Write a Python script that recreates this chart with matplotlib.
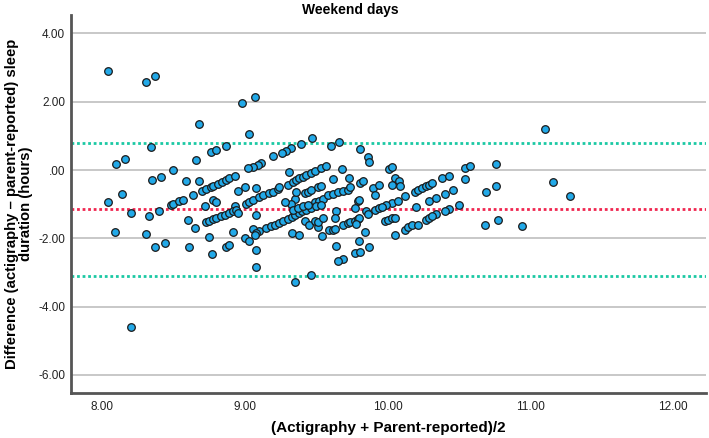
import numpy as np
import matplotlib
matplotlib.use("Agg")
import matplotlib.pyplot as plt

# mean of the two methods (hours) and difference actigraphy - parent (hours)
mean_left = [8.04, 8.31, 8.37, 8.10, 8.16, 8.04, 8.14, 8.20, 8.09, 8.20, 8.31, 8.33, 8.34, 8.68, 8.98, 9.07, 9.03]
diff_left = [2.91, 2.59, 2.74, 0.19, 0.31, -0.93, -0.70, -1.27, -1.82, -4.59, -1.88, -1.36, 0.67, 1.35, 1.96, 2.14, 1.06]

mean_b = [8.76, 8.80, 8.87, 8.66, 8.50, 8.35, 8.41, 8.59, 8.68, 8.64,
          8.70, 8.73, 8.76, 8.78, 8.81, 8.84, 8.87, 8.89, 8.93, 8.95,
          8.78, 8.80, 8.72, 8.48, 8.50, 8.54, 8.57, 8.93, 8.40,
          8.60, 8.65, 8.73, 8.75, 8.78, 8.80, 8.83, 8.86, 8.89, 8.92, 8.94,
          8.75, 8.77, 8.92, 8.87, 8.89, 8.37, 8.44, 8.61]
diff_b = [0.52, 0.58, 0.71, 0.30, 0.01, -0.29, -0.20, -0.31, -0.31, -0.72,
          -0.61, -0.55, -0.50, -0.46, -0.40, -0.35, -0.28, -0.23, -0.16, -0.61,
          -0.87, -0.94, -1.06, -1.03, -0.98, -0.92, -0.88, -1.06, -1.19,
          -1.45, -1.70, -1.52, -1.48, -1.44, -1.40, -1.36, -1.31, -1.26, -1.21, -1.16,
          -1.97, -2.46, -1.81, -2.26, -2.20, -2.25, -2.13, -2.26]

mean_c = [9.47, 9.39, 9.32, 9.29, 9.26, 9.20, 9.11, 9.09, 9.06, 9.02, 9.31,
          9.30, 9.34, 9.36, 9.38, 9.41, 9.43, 9.46, 9.49, 9.00, 9.08,
          9.01, 9.03, 9.06, 9.10, 9.13, 9.17, 9.20, 9.23, 9.24,
          9.35, 9.32, 9.28, 9.36, 9.42, 9.44, 9.46, 9.51, 9.53, 9.49, 9.52, 9.55,
          9.08, 8.95,
          9.10, 9.15, 9.18, 9.21, 9.24, 9.27, 9.30, 9.33, 9.35, 9.38, 9.40, 9.43, 9.46, 9.50, 9.53,
          9.06, 9.08, 9.07, 9.00, 9.03, 9.08, 9.08, 9.33, 9.38,
          9.42, 9.45, 9.49, 9.51, 9.51, 9.54, 9.55, 9.35, 9.46,
          9.34, 9.37, 9.41, 9.44]
diff_c = [0.94, 0.77, 0.64, 0.57, 0.50, 0.40, 0.22, 0.16, 0.10, 0.05, -0.05,
          -0.43, -0.35, -0.29, -0.23, -0.19, -0.14, -0.09, -0.04, -0.50, -0.52,
          -0.99, -0.94, -0.87, -0.80, -0.74, -0.67, -0.63, -0.56, -0.51,
          -0.84, -0.99, -0.94, -0.63, -0.67, -0.63, -0.58, -0.51, -0.46, -0.95, -0.90, -0.84,
          -1.33, -1.26,
          -1.79, -1.70, -1.64, -1.60, -1.55, -1.48, -1.43, -1.38, -1.33, -1.26, -1.21, -1.16, -1.11, -1.06, -1.01,
          -1.73, -1.84, -1.89, -1.99, -2.09, -2.33, -2.84, -1.84, -1.91,
          -1.50, -1.62, -1.50, -1.67, -1.52, -1.94, -1.40, -3.29, -3.08,
          -1.16, -1.11, -1.06, -1.01]

mean_d = [9.60, 9.66, 9.81, 9.86, 9.87, 9.68, 9.53, 9.57, 10.01, 10.03,
          9.62, 9.73, 9.81, 9.83, 9.90, 9.94, 9.91,
          10.05, 10.08, 10.09, 10.03, 10.12, 9.79, 9.80, 10.03, 9.99, 10.07,
          9.58, 9.62, 9.65, 9.69, 9.72, 9.74,
          9.64, 9.77, 9.85, 9.91, 9.94,
          9.59, 9.62, 9.63, 9.69, 9.72, 9.74, 9.77, 9.79, 9.80,
          9.86, 9.96, 9.63, 9.78,
          9.84, 9.64, 9.80, 9.87, 9.77, 9.81, 9.69, 9.65,
          9.98, 10.00, 10.03, 10.05, 10.05, 10.12]
diff_d = [0.69, 0.82, 0.62, 0.38, 0.25, 0.03, 0.06, 0.11, 0.03, 0.08,
          -0.25, -0.22, -0.38, -0.33, -0.53, -0.45, -0.72,
          -0.23, -0.33, -0.48, -0.45, -0.77, -0.92, -0.87, -0.96, -1.01, -0.92,
          -0.74, -0.69, -0.65, -0.62, -0.57, -0.51,
          -1.21, -1.11, -1.21, -1.16, -1.11,
          -1.77, -1.75, -1.72, -1.62, -1.55, -1.52, -1.48, -1.42, -1.40,
          -1.29, -1.09, -1.40, -1.58,
          -1.81, -2.23, -2.07, -2.26, -2.43, -2.40, -2.60, -2.67,
          -1.48, -1.45, -1.40, -1.39, -1.91, -1.75]

mean_right = [10.54, 10.58, 10.69, 10.54, 10.38, 10.43, 10.46, 10.40,
              10.19, 10.21, 10.24, 10.27, 10.29, 10.31, 10.29, 10.34,
              10.20, 10.50, 10.43, 10.40, 10.34,
              10.14, 10.17, 10.21, 10.27, 10.29, 10.31,
              10.68, 10.77, 10.94, 10.76, 10.76, 11.10, 11.16, 11.28]
diff_right = [0.06, 0.13, -0.63, -0.25, -0.23, -0.16, -0.58, -0.70,
              -0.63, -0.58, -0.53, -0.48, -0.43, -0.38, -0.92, -0.82,
              -1.08, -1.01, -1.13, -1.21, -1.29,
              -1.68, -1.62, -1.60, -1.45, -1.40, -1.36,
              -1.62, -1.47, -1.63, 0.18, -0.47, 1.21, -0.34, -0.77]

mean_diff = -1.15
upper_loa = 0.79
lower_loa = -3.11

x = np.array(mean_left + mean_b + mean_c + mean_d + mean_right)
y = np.array(diff_left + diff_b + diff_c + diff_d + diff_right)

plt.rcParams['font.family'] = ['Liberation Sans', 'DejaVu Sans']

fig = plt.figure(figsize=(7.09, 4.38), dpi=100)
ax = fig.add_axes([0.0997, 0.1027, 0.896, 0.863])

ax.set_xlim(7.78, 12.23)
ax.set_ylim(-6.53, 4.54)
ax.set_yticks([4, 2, 0, -2, -4, -6])
ax.set_yticklabels(['4.00', '2.00', '.00', '-2.00', '-4.00', '-6.00'])
ax.set_xticks([8, 9, 10, 11, 12])
ax.set_xticklabels(['8.00', '9.00', '10.00', '11.00', '12.00'])
ax.tick_params(length=0, labelsize=8.5, colors='#222222')
ax.tick_params(axis='x', pad=6)
ax.tick_params(axis='y', pad=4)

ax.grid(axis='y', color='#c8c8c8', lw=1.4)
ax.set_axisbelow(True)
for s in ['top', 'right']:
    ax.spines[s].set_visible(False)
for s in ['left', 'bottom']:
    ax.spines[s].set_color('#555555')
    ax.spines[s].set_linewidth(2)

ax.axhline(upper_loa, color='#1bc9a4', lw=2, ls=(0, (1, 1)), zorder=2)
ax.axhline(mean_diff, color='#f0264f', lw=2, ls=(0, (1, 1)), zorder=2)
ax.axhline(lower_loa, color='#1bc9a4', lw=2, ls=(0, (1, 1)), zorder=2)

ax.scatter(x, y, s=30, facecolor='#22a9e8', edgecolor='#1a1a1a', lw=0.9, zorder=3)

fig.text(388 / 709, 1 - 428 / 438, '(Actigraphy + Parent-reported)/2', ha='center', va='center',
         fontsize=11, fontweight='bold')
fig.text(19 / 709, 1 - 204 / 438, 'Difference (actigraphy – parent-reported) sleep\nduration (hours)',
         ha='center', va='center', rotation=90, fontsize=10.7, fontweight='bold',
         linespacing=0.95, multialignment='center')
fig.text(350 / 709, 1 - 10 / 438, 'Weekend days', ha='center', va='center',
         fontsize=10, fontweight='bold')

fig.savefig('out.png', dpi=100)
